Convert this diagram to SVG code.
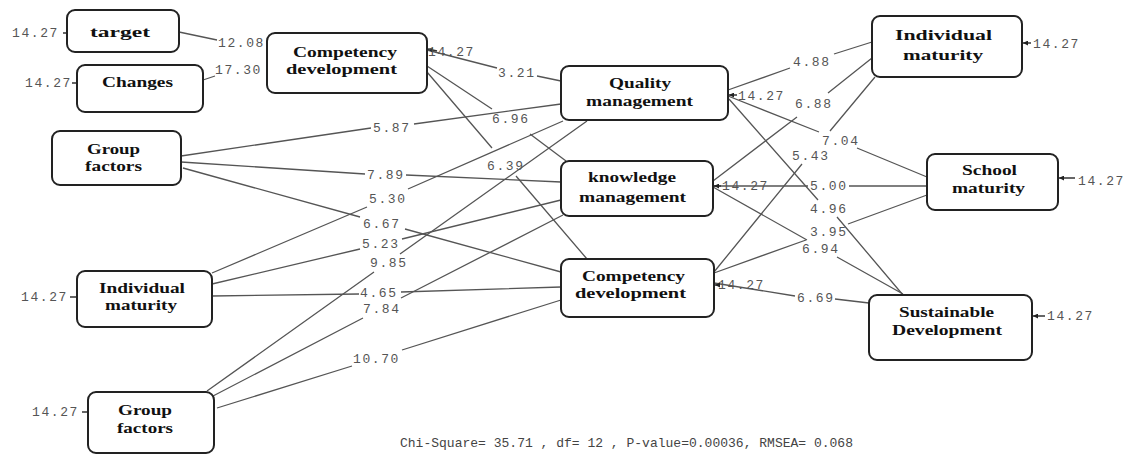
<svg xmlns="http://www.w3.org/2000/svg" width="1132" height="464" viewBox="0 0 1132 464">
<defs>
<style>
.box{fill:#fff;stroke:#222;stroke-width:2}
.nt{font-family:"Liberation Serif",serif;font-weight:bold;font-size:15px;fill:#111}
.el{font-family:"Liberation Mono",monospace;font-size:13px;letter-spacing:1.6px;fill:#555}
.cn{fill:none;stroke:#555;stroke-width:1.3}
.er{fill:none;stroke:#333;stroke-width:1.5}
</style>
<marker id="ah" viewBox="0 0 6 6" refX="6" refY="3" markerWidth="5" markerHeight="5" orient="auto" markerUnits="userSpaceOnUse">
<path d="M0,0 L6,3 L0,6 Z" fill="#222"/>
</marker>
</defs>
<rect width="1132" height="464" fill="#fff"/>

<g id="connectors">
<path class="cn" d="M179,32 L217,40"/>
<path class="cn" d="M203,80 L215,76"/>
<path class="cn" d="M427,50 L497,68 M537,76 L561,81"/>
<path class="cn" d="M427,66 L492,109 M530,134 L566,161"/>
<path class="cn" d="M427,72 L492,148 M516,176 L587,259"/>
<path class="cn" d="M181,156 L371,128 M414,124 L561,104"/>
<path class="cn" d="M181,162 L365,174 M406,175 L561,182"/>
<path class="cn" d="M183,168 L360,217 M405,229 L561,272"/>
<path class="cn" d="M212,273 L367,207 M408,189 L563,121"/>
<path class="cn" d="M212,284 L360,249 M402,239 L561,200"/>
<path class="cn" d="M212,296 L359,294 M401,292 L561,287"/>
<path class="cn" d="M207,391 L374,272 M400,254 L587,121"/>
<path class="cn" d="M213,396 L363,318 M401,298 L563,215"/>
<path class="cn" d="M217,408 L352,366 M402,350 L561,300"/>
<path class="cn" d="M728,90 L790,68 M834,54 L872,42"/>
<path class="cn" d="M713,181 L797,117 M828,93 L872,58"/>
<path class="cn" d="M714,272 L802,164 M830,131 L875,77"/>
<path class="cn" d="M728,96 L819,132 M857,148 L927,177"/>
<path class="cn" d="M713,186 L808,186 M849,186 L927,186"/>
<path class="cn" d="M714,273 L806,240 M848,224 L927,195"/>
<path class="cn" d="M729,99 L818,200 M837,217 L903,295"/>
<path class="cn" d="M713,187 L807,240 M837,257 L903,294"/>
<path class="cn" d="M714,283 L795,296 M835,299 L869,303"/>
<path class="er" d="M63,33 L67,33 M72,83 L77,83 M70,297 L77,297 M82,412 L88,412"/>
<path class="er" d="M437,51 L428,49" marker-end="url(#ah)"/>
<path class="er" d="M737,95 L729,95" marker-end="url(#ah)"/>
<path class="er" d="M721,186 L714,186" marker-end="url(#ah)"/>
<path class="er" d="M720,285 L715,285" marker-end="url(#ah)"/>
<path class="er" d="M1031,43 L1023,43" marker-end="url(#ah)"/>
<path class="er" d="M1075,178 L1059,178" stroke-width="2.5" marker-end="url(#ah)"/>
<path class="er" d="M1045,316 L1033,316" stroke-width="2" marker-end="url(#ah)"/>
</g>

<g id="connector-labels">
<text class="el" x="218" y="47">12.08</text>
<text class="el" x="215" y="74">17.30</text>
<text class="el" x="428" y="56">14.27</text>
<text class="el" x="498" y="77">3.21</text>
<text class="el" x="373" y="132">5.87</text>
<text class="el" x="492" y="123">6.96</text>
<text class="el" x="367" y="179">7.89</text>
<text class="el" x="487" y="170">6.39</text>
<text class="el" x="369" y="203">5.30</text>
<text class="el" x="363" y="228">6.67</text>
<text class="el" x="362" y="248">5.23</text>
<text class="el" x="370" y="267">9.85</text>
<text class="el" x="360" y="297">4.65</text>
<text class="el" x="363" y="313">7.84</text>
<text class="el" x="353" y="363">10.70</text>
<text class="el" x="793" y="66">4.88</text>
<text class="el" x="738" y="100">14.27</text>
<text class="el" x="795" y="108">6.88</text>
<text class="el" x="822" y="145">7.04</text>
<text class="el" x="792" y="160">5.43</text>
<text class="el" x="722" y="190">14.27</text>
<text class="el" x="810" y="190">5.00</text>
<text class="el" x="810" y="213">4.96</text>
<text class="el" x="810" y="236">3.95</text>
<text class="el" x="802" y="253">6.94</text>
<text class="el" x="718" y="289">14.27</text>
<text class="el" x="797" y="302">6.69</text>
<text class="el" x="12" y="37">14.27</text>
<text class="el" x="25" y="87">14.27</text>
<text class="el" x="21" y="301">14.27</text>
<text class="el" x="32" y="416">14.27</text>
<text class="el" x="1033" y="48">14.27</text>
<text class="el" x="1078" y="185">14.27</text>
<text class="el" x="1047" y="320">14.27</text>
</g>

<g id="n-target"><rect class="box" x="67" y="10" width="112" height="42" rx="8"/><text class="nt" x="90" y="37" font-size="18" textLength="60" lengthAdjust="spacingAndGlyphs">target</text></g>
<g id="n-changes"><rect class="box" x="77" y="65" width="126" height="47" rx="8"/><text class="nt" x="102" y="87" textLength="71" lengthAdjust="spacingAndGlyphs">Changes</text></g>
<g id="n-competency-top"><rect class="box" x="267" y="33" width="160" height="60" rx="8"/><text class="nt" x="293" y="57" textLength="104" lengthAdjust="spacingAndGlyphs">Competency</text><text class="nt" x="286" y="74" textLength="111" lengthAdjust="spacingAndGlyphs">development</text></g>
<g id="n-group-top"><rect class="box" x="52" y="131" width="129" height="54" rx="8"/><text class="nt" x="87" y="154" textLength="53" lengthAdjust="spacingAndGlyphs">Group</text><text class="nt" x="85" y="171" textLength="57" lengthAdjust="spacingAndGlyphs">factors</text></g>
<g id="n-individual-left"><rect class="box" x="77" y="271" width="135" height="56" rx="8"/><text class="nt" x="99" y="293" textLength="86" lengthAdjust="spacingAndGlyphs">Individual</text><text class="nt" x="105" y="310" textLength="72" lengthAdjust="spacingAndGlyphs">maturity</text></g>
<g id="n-group-bottom"><rect class="box" x="88" y="392" width="126" height="61" rx="8"/><text class="nt" x="118" y="415" textLength="54" lengthAdjust="spacingAndGlyphs">Group</text><text class="nt" x="117" y="433" textLength="56" lengthAdjust="spacingAndGlyphs">factors</text></g>
<g id="n-quality"><rect class="box" x="561" y="66" width="167" height="54" rx="8"/><text class="nt" x="609" y="88" textLength="62" lengthAdjust="spacingAndGlyphs">Quality</text><text class="nt" x="586" y="106" textLength="107" lengthAdjust="spacingAndGlyphs">management</text></g>
<g id="n-knowledge"><rect class="box" x="561" y="161" width="152" height="55" rx="8"/><text class="nt" x="588" y="182" textLength="88" lengthAdjust="spacingAndGlyphs">knowledge</text><text class="nt" x="579" y="202" textLength="107" lengthAdjust="spacingAndGlyphs">management</text></g>
<g id="n-competency-mid"><rect class="box" x="561" y="259" width="153" height="58" rx="8"/><text class="nt" x="582" y="281" textLength="103" lengthAdjust="spacingAndGlyphs">Competency</text><text class="nt" x="575" y="298" textLength="111" lengthAdjust="spacingAndGlyphs">development</text></g>
<g id="n-individual-right"><rect class="box" x="872" y="16" width="150" height="61" rx="8"/><text class="nt" x="895" y="40" textLength="97" lengthAdjust="spacingAndGlyphs">Individual</text><text class="nt" x="903" y="60" textLength="80" lengthAdjust="spacingAndGlyphs">maturity</text></g>
<g id="n-school"><rect class="box" x="927" y="154" width="131" height="56" rx="8"/><text class="nt" x="962" y="175" textLength="55" lengthAdjust="spacingAndGlyphs">School</text><text class="nt" x="952" y="193" textLength="73" lengthAdjust="spacingAndGlyphs">maturity</text></g>
<g id="n-sustainable"><rect class="box" x="869" y="295" width="163" height="65" rx="8"/><text class="nt" x="899" y="317" textLength="95" lengthAdjust="spacingAndGlyphs">Sustainable</text><text class="nt" x="892" y="335" textLength="110" lengthAdjust="spacingAndGlyphs">Development</text></g>

<text id="fit" x="400" y="447" font-family="Liberation Mono, monospace" font-size="13" fill="#444" textLength="453" lengthAdjust="spacingAndGlyphs">Chi-Square= 35.71 , df= 12 , P-value=0.00036, RMSEA= 0.068</text>
</svg>
